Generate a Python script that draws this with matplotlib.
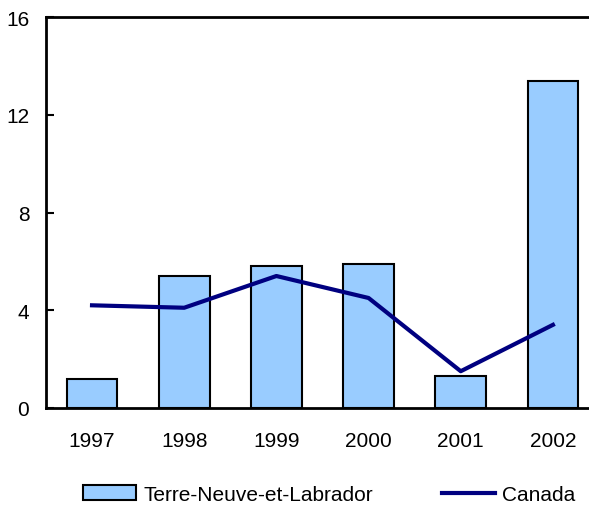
import matplotlib
matplotlib.use("Agg")
import matplotlib.pyplot as plt
from matplotlib.patches import Patch
from matplotlib.lines import Line2D

years = ["1997", "1998", "1999", "2000", "2001", "2002"]
nl = [1.2, 5.4, 5.8, 5.9, 1.3, 13.4]
canada = [4.2, 4.1, 5.4, 4.5, 1.5, 3.4]

plt.rcParams["font.family"] = ["Liberation Sans", "DejaVu Sans"]
fig = plt.figure(figsize=(5.89, 5.06), dpi=100)
ax = fig.add_axes([0.078, 0.192, 0.939, 0.772])
x = list(range(len(years)))
ax.bar(x, nl, width=0.55, color="#99ccff", edgecolor="black", linewidth=1.5, zorder=2)
ax.plot(x, canada, color="#000080", lw=3, zorder=3)
ax.set_xlim(-0.5, 5.5)
ax.set_ylim(0, 16)
ax.set_yticks([0, 4, 8, 12, 16])
ax.set_xticks(x)
ax.set_xticklabels(years)
ax.tick_params(axis="x", length=0, labelsize=15, pad=17)
ax.tick_params(axis="y", direction="in", length=6, width=1.5, labelsize=15, pad=12)
ax.spines["right"].set_visible(False)
for s in ("left", "bottom", "top"):
    ax.spines[s].set_linewidth(2)

handles = [Patch(facecolor="#99ccff", edgecolor="black", linewidth=1.5),
           Line2D([], [], color="#000080", lw=3)]
fig.legend(handles, ["Terre-Neuve-et-Labrador", "Canada"], loc="lower left",
           bbox_to_anchor=(0.141, 0.002), ncol=2, frameon=False, fontsize=15,
           borderaxespad=0, borderpad=0.0,
           handlelength=2.55, handletextpad=0.35, columnspacing=3.3)
fig.savefig("out.png", dpi=100)
